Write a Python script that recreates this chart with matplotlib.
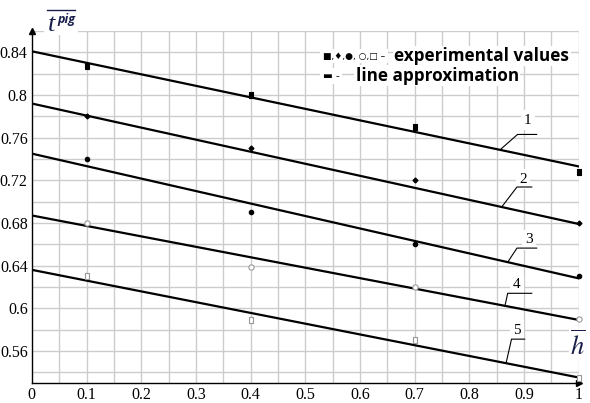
import matplotlib
matplotlib.use("Agg")
import matplotlib.pyplot as plt
from matplotlib.path import Path
from matplotlib.lines import Line2D
from matplotlib.patches import Rectangle
import numpy as np

# data
h_points = [0.1, 0.4, 0.7, 1.0]
exp_values = {
    "1": [0.827, 0.800, 0.770, 0.728],
    "2": [0.780, 0.750, 0.720, 0.680],
    "3": [0.740, 0.690, 0.660, 0.630],
    "4": [0.680, 0.639, 0.620, 0.590],
    "5": [0.630, 0.589, 0.570, 0.535],
}
line_start = [0.841, 0.792, 0.745, 0.687, 0.636]
line_end = [0.733, 0.679, 0.628, 0.589, 0.535]
curve_labels = ["1", "2", "3", "4", "5"]
xticks = [0, 0.1, 0.2, 0.3, 0.4, 0.5, 0.6, 0.7, 0.8, 0.9, 1]
xticklabels = ["0", "0.1", "0.2", "0.3", "0.4", "0.5", "0.6", "0.7", "0.8", "0.9", "1"]
yticks = [0.56, 0.6, 0.64, 0.68, 0.72, 0.76, 0.8, 0.84]
yticklabels = ["0.56", "0.6", "0.64", "0.68", "0.72", "0.76", "0.8", "0.84"]

plt.rcParams["font.family"] = ["Liberation Serif", "DejaVu Serif"]
plt.rcParams["mathtext.fontset"] = "stix"
SERIF = ["Liberation Serif", "DejaVu Serif"]
NAVY = "#1a1f4a"

fig = plt.figure(figsize=(5.9, 4.03), dpi=100)
ax = fig.add_axes([0.054, 0.05, 0.927, 0.873])
ax.set_xlim(0, 1)
ax.set_ylim(0.53, 0.86)

# grid
for gx in np.arange(0.05, 1.001, 0.05):
    ax.axvline(gx, color="#cccccc", lw=1.0, zorder=0)
for gy in np.arange(0.54, 0.861, 0.02):
    ax.axhline(gy, color="#cccccc", lw=1.0, zorder=0)

def rect_marker(w):
    return Path([(-w, -1), (w, -1), (w, 1), (-w, 1), (-w, -1)],
                [Path.MOVETO, Path.LINETO, Path.LINETO, Path.LINETO, Path.CLOSEPOLY])

markers = [(rect_marker(0.6), "black", "black", 4.8), ("D", "black", "black", 2.6),
           ("o", "black", "black", 3.2), ("o", "white", "#999999", 3.8),
           (rect_marker(0.7), "white", "#999999", 4.4)]
for i, key in enumerate(curve_labels):
    ax.plot([0, 1], [line_start[i], line_end[i]], color="black", lw=1.6, zorder=2)
    m, fc, ec, ms = markers[i]
    ax.plot(h_points, exp_values[key], linestyle="none", marker=m,
            markerfacecolor=fc, markeredgecolor=ec, markersize=ms,
            markeredgewidth=0.8, zorder=3, clip_on=False)

# curve labels with leaders
lab_pos = [(0.907, 0.7765), (0.898, 0.721), (0.909, 0.664), (0.887, 0.622), (0.887, 0.5795)]
shelf = [((0.888, 0.923), 0.763), ((0.887, 0.914), 0.7137), ((0.887, 0.923), 0.6564),
         ((0.870, 0.914), 0.614), ((0.877, 0.901), 0.571)]
touch_x = [0.856, 0.859, 0.870, 0.865, 0.867]
for i, key in enumerate(curve_labels):
    tx, ty = lab_pos[i]
    ax.text(tx, ty, key, fontsize=11, family=SERIF, ha="center", va="center",
            bbox=dict(facecolor="white", edgecolor="none", pad=2.5), zorder=4)
    (sx0, sx1), sy = shelf[i]
    yl = line_start[i] + (line_end[i] - line_start[i]) * touch_x[i]
    ax.plot([sx1, sx0, touch_x[i]], [sy, sy, yl], color="black", lw=0.8, zorder=4)

ax.set_xticks(xticks)
ax.set_xticklabels(xticklabels, fontfamily=SERIF, fontsize=11.5)
ax.set_yticks(yticks)
ax.set_yticklabels(yticklabels, fontfamily=SERIF, fontsize=11.5)
ax.tick_params(length=0, pad=3)
ax.spines["top"].set_visible(False)
ax.spines["right"].set_visible(False)
ax.spines["left"].set_linewidth(1.0)
ax.spines["bottom"].set_linewidth(1.0)
ax.plot(0, 1.0, marker="^", color="black", markersize=4, transform=ax.transAxes,
        clip_on=False)
ax.plot(1.0, 0, marker=">", color="black", markersize=4, transform=ax.transAxes,
        clip_on=False)

# y axis title: t with superscript pig and overline (pixel coords -> fig fraction)
W, H = 590.0, 403.0
fig.patches.append(Rectangle((44 / W, 1 - 35 / H), 34 / W, 30 / H, transform=fig.transFigure,
                             facecolor="white", edgecolor="none", zorder=3))
fig.text(52 / W, 1 - 25 / H, "t", fontsize=19, style="italic", family=SERIF,
         color=NAVY, ha="center", va="center", zorder=4)
fig.text(66 / W, 1 - 19 / H, "pig", fontsize=9, style="italic", weight="bold",
         family=["Open Sans", "DejaVu Sans"], color=NAVY, ha="center", va="center", zorder=4)
fig.lines.append(Line2D([47 / W, 75 / W], [1 - 10 / H, 1 - 10 / H], transform=fig.transFigure,
                        color=NAVY, lw=1.0, zorder=4))

# x axis title
ax.text(0.998, 0.5655, r"$\overline{h}$", fontsize=19, ha="center", va="center",
        color=NAVY,
        bbox=dict(facecolor="white", edgecolor="none", pad=1), zorder=5, clip_on=False)

# legend text
ax.text(0.532, 0.8365, "■,♦,●, ○,□ –", fontsize=6.5, family="DejaVu Sans", ha="left",
        va="center", zorder=5,
        bbox=dict(facecolor="white", edgecolor="none", pad=2))
ax.text(0.663, 0.8365, "experimental values", fontsize=12.3, fontweight="bold",
        family="Open Sans", ha="left", va="center", zorder=5,
        bbox=dict(facecolor="white", edgecolor="none", pad=1))
ax.text(0.532, 0.818, "▬ -", fontsize=7.5, family="DejaVu Sans", ha="left", va="center",
        zorder=5, bbox=dict(facecolor="white", edgecolor="none", pad=2))
ax.text(0.592, 0.818, "line approximation", fontsize=12.3, fontweight="bold",
        family="Open Sans", ha="left", va="center", zorder=5,
        bbox=dict(facecolor="white", edgecolor="none", pad=1))

fig.savefig("out.png", dpi=100)
